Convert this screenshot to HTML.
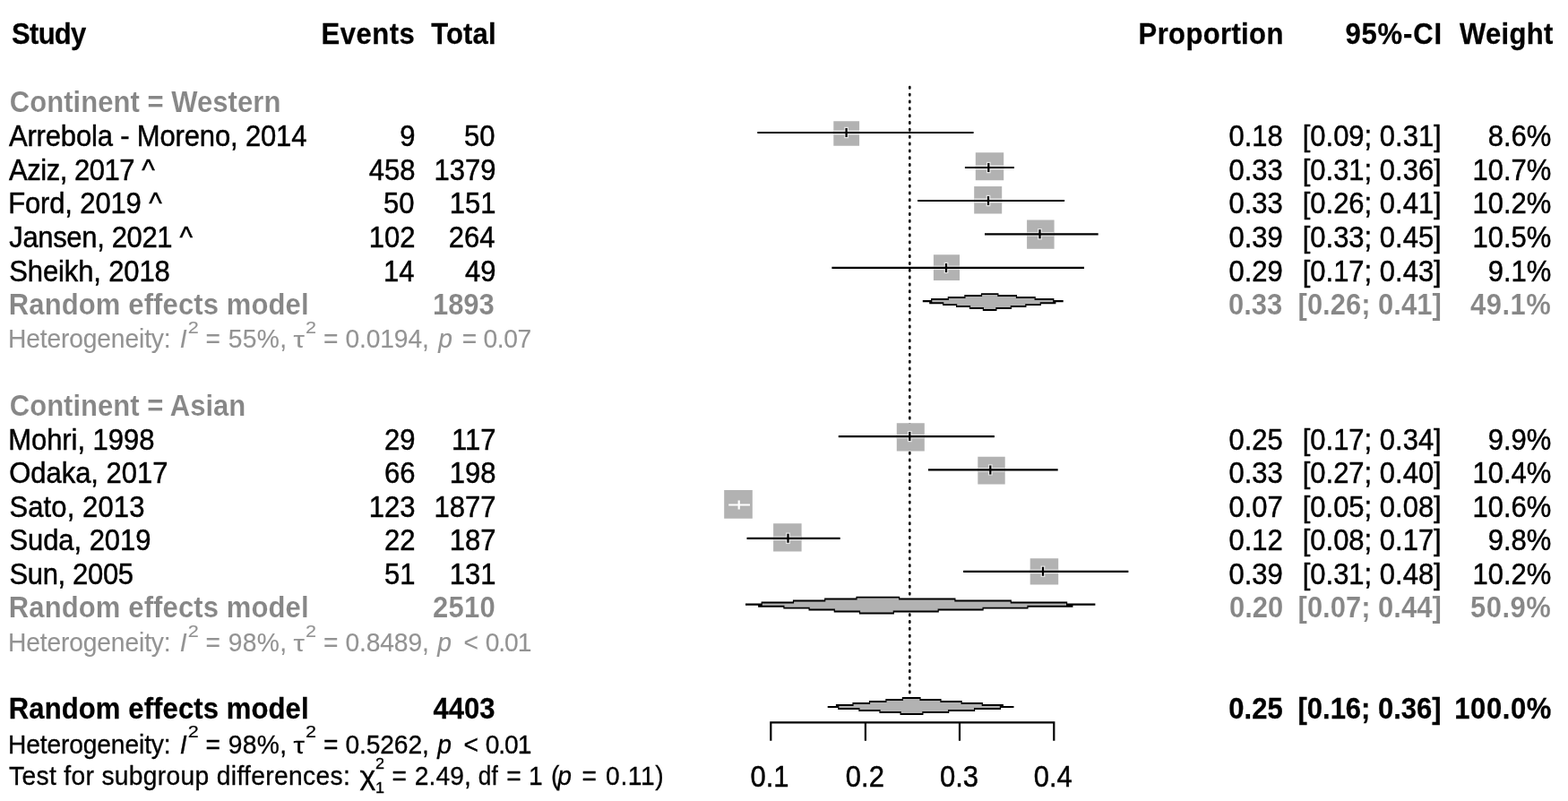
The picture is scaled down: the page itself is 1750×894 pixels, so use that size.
<!DOCTYPE html>
<html lang="en">
<head>
<meta charset="utf-8">
<title>Forest plot</title>
<style>
html,body{margin:0;padding:0;background:#fff;}
body{width:1750px;height:894px;overflow:hidden;}
svg{display:block;}
text{font-family:"Liberation Sans",Arial,Helvetica,sans-serif;font-size:31.0px;fill:#000;stroke:#000;stroke-width:0.45;white-space:pre;}
.b{font-weight:bold;stroke-width:0.25;}
.i{font-style:italic;}
.h{font-size:28.2px;stroke-width:0.3;}
.s{font-size:18.0px;stroke-width:0.2;}
.t{font-size:15.0px;stroke-width:0.3;}
.g{fill:#878787;stroke:#fff;stroke-width:0.12;}
.k{fill:#939393;stroke:#939393;stroke-width:0.12;}
</style>
</head>
<body>
<svg width="1750" height="894" viewBox="0 0 1750 894">
<rect width="1750" height="894" fill="#fff"/>
<g>
<line x1="1015.3" y1="97.1" x2="1015.3" y2="774.5" stroke="#000" stroke-width="2.6" stroke-linecap="round" stroke-dasharray="1.4 6.445"/>
<path d="M930.3,135.3h28.8v27.5h-28.8z M1088.8,170.3h31.4v30.9h-31.4z M1087.2,208h31v30.5h-31z M1146.1,245.4h30.5v32.4h-30.5z M1041.9,284.3h29.1v28.8h-29.1z M1000.8,472.2h31v31.3h-31z M1091.3,509.8h30.4v30.7h-30.4z M808.2,547h31.6v31.8h-31.6z M863.1,584.3h31.5v31.3h-31.5z M1149.7,623.3h31.5v29.3h-31.5z" fill="#b2b2b2"/>
<path d="M930.3,148H959.1M944.6,141.8V154.2 M1088.8,187H1120.2M1103.3,180.8V193.2 M1087.2,224H1118.2M1103,217.8V230.2 M1146.1,261.3H1176.6M1160.5,255.1V267.5 M1041.9,298.9H1071M1056,292.7V305.1 M1000.8,487.1H1031.8M1015.3,480.9V493.3 M1091.3,524.4H1121.7M1105.3,518.2V530.6 M863.1,600.8H894.6M879.5,594.6V607 M1149.7,637.8H1181.2M1164,631.6V644" fill="none" stroke="#e2e2e2" stroke-width="4.8"/>
<path d="M845.3,148H1086.6M944.6,143V153 M1076.9,187H1131.9M1103.3,182V192 M1024.1,224H1188.1M1103,219V229 M1099,261.3H1225.7M1160.5,256.3V266.3 M928.4,298.9H1210M1056,293.9V303.9 M935.8,487.1H1109.9M1015.3,482.1V492.1 M1035.9,524.4H1180.7M1105.3,519.4V529.4 M833.5,600.8H937.7M879.5,595.8V605.8 M1075.1,637.8H1259.4M1164,632.8V642.8" fill="none" stroke="#000" stroke-width="2.2"/>
<path d="M813.2,563.5H837M824.7,558.5V568.5" fill="none" stroke="#fff" stroke-width="2.2"/>
<path d="M1094.9,327.2h19.6v2.2h-19.6z M1076.3,329.1h58.8v2.2h-58.8z M1057.7,331.1h98.1v2.2h-98.1z M1039.1,333.1h137.3v2.2h-137.3z M1029.8,335h156.9v2.2h-156.9z M1037.2,337h141.2v2.2h-141.2z M1052.1,338.9h109.8v2.2h-109.8z M1067,340.9h78.5v2.2h-78.5z M1081.9,342.9h47.1v2.2h-47.1z M1096.8,344.8h15.7v2.2h-15.7z" fill="#000"/>
<path d="M1096.1,329.1h17.2v2.2h-17.2z M1077.5,331.1h56.4v2.2h-56.4z M1058.9,333.1h95.7v2.2h-95.7z M1040.3,335h134.9v2.2h-134.9z M1053.3,337h107.4v2.2h-107.4z M1068.2,338.9h76v2.2h-76z M1083.1,340.9h44.7v2.2h-44.7z M1098,342.9h13.3v2.2h-13.3z" fill="#b2b2b2"/>
<path d="M955.4,665.7h48.8v2.2h-48.8z M920.1,667.6h146.4v2.2h-146.4z M884.9,669.6h244v2.2h-244z M849.6,671.6h341.6v2.2h-341.6z M832,673.5h390.4v2.2h-390.4z M846.1,675.5h351.4v2.2h-351.4z M874.3,677.4h273.3v2.2h-273.3z M902.5,679.4h195.2v2.2h-195.2z M930.7,681.4h117.1v2.2h-117.1z M958.9,683.3h39v2.2h-39z" fill="#000"/>
<path d="M956.6,667.6h46.4v2.2h-46.4z M921.3,669.6h144v2.2h-144z M886.1,671.6h241.6v2.2h-241.6z M850.8,673.5h339.2v2.2h-339.2z M875.5,675.5h270.9v2.2h-270.9z M903.7,677.4h192.8v2.2h-192.8z M931.9,679.4h114.7v2.2h-114.7z M960.1,681.4h36.6v2.2h-36.6z" fill="#b2b2b2"/>
<path d="M1006.8,778.1h20.8v2.2h-20.8z M988.3,780.1h62.3v2.2h-62.3z M969.9,782h103.9v2.2h-103.9z M951.4,784h145.5v2.2h-145.5z M932.9,786h187v2.2h-187z M923.7,787.9h207.8v2.2h-207.8z M935.2,789.9h181.8v2.2h-181.8z M958.3,791.8h129.9v2.2h-129.9z M981.4,793.8h77.9v2.2h-77.9z M1004.5,795.8h26v2.2h-26z" fill="#000"/>
<path d="M1008,780.1h18.4v2.2h-18.4z M989.5,782h59.9v2.2h-59.9z M971.1,784h101.5v2.2h-101.5z M952.6,786h143.1v2.2h-143.1z M936.4,787.9h179.4v2.2h-179.4z M959.5,789.9h127.5v2.2h-127.5z M982.6,791.8h75.5v2.2h-75.5z M1005.7,793.8h23.6v2.2h-23.6z" fill="#b2b2b2"/>
<path d="M860.3,826.7V806.4H1176.3V826.7M965.9,806.4V826.7M1071,806.4V826.7" fill="none" stroke="#000" stroke-width="2.2"/>
</g>
<g>
<text class="b" transform="matrix(1 0 0 1.09 13.1 49)" textLength="83.24" lengthAdjust="spacing">Study</text>
<text class="b" transform="matrix(1 0 0 1.09 358.6 49)" textLength="104.24" lengthAdjust="spacing">Events</text>
<text class="b" transform="matrix(1 0 0 1.09 481.3 49)" textLength="72.21" lengthAdjust="spacing">Total</text>
<text class="b" transform="matrix(1 0 0 1.09 1270.6 49)" textLength="161.74" lengthAdjust="spacing">Proportion</text>
<text class="b" transform="matrix(1 0 0 1.09 1501.4 49)" textLength="107.61" lengthAdjust="spacing">95%-CI</text>
<text class="b" transform="matrix(1 0 0 1.09 1629.1 49)" textLength="104.22" lengthAdjust="spacing">Weight</text>
<text class="b g" transform="matrix(1 0 0 1.09 10.8 125.1)" textLength="302.54" lengthAdjust="spacing">Continent = Western</text>
<text transform="matrix(1 0 0 1.09 9.9 163.2)" textLength="332.54" lengthAdjust="spacing">Arrebola - Moreno, 2014</text>
<text transform="matrix(1 0 0 1.09 446.2 163.2)">9</text>
<text transform="matrix(1 0 0 1.09 518.06 163.2)">50</text>
<text transform="matrix(1 0 0 1.09 1371.51 163.2)">0.18</text>
<text transform="matrix(1 0 0 1.09 1453.69 163.2)">[0.09; 0.31]</text>
<text transform="matrix(1 0 0 1.09 1660.71 163.2)">8.6%</text>
<text transform="matrix(1 0 0 1.09 10 200.8)" textLength="162.75" lengthAdjust="spacing">Aziz, 2017 ^</text>
<text transform="matrix(1 0 0 1.09 411.72 200.8)">458</text>
<text transform="matrix(1 0 0 1.09 484.58 200.8)">1379</text>
<text transform="matrix(1 0 0 1.09 1371.51 200.8)">0.33</text>
<text transform="matrix(1 0 0 1.09 1453.69 200.8)">[0.31; 0.36]</text>
<text transform="matrix(1 0 0 1.09 1643.47 200.8)">10.7%</text>
<text transform="matrix(1 0 0 1.09 9.2 238.4)" textLength="171.55" lengthAdjust="spacing">Ford, 2019 ^</text>
<text transform="matrix(1 0 0 1.09 427.96 238.4)">50</text>
<text transform="matrix(1 0 0 1.09 501.82 238.4)">151</text>
<text transform="matrix(1 0 0 1.09 1371.51 238.4)">0.33</text>
<text transform="matrix(1 0 0 1.09 1453.69 238.4)">[0.26; 0.41]</text>
<text transform="matrix(1 0 0 1.09 1643.47 238.4)">10.2%</text>
<text transform="matrix(1 0 0 1.09 10.3 276)" textLength="204.75" lengthAdjust="spacing">Jansen, 2021 ^</text>
<text transform="matrix(1 0 0 1.09 411.72 276)">102</text>
<text transform="matrix(1 0 0 1.09 500.82 276)">264</text>
<text transform="matrix(1 0 0 1.09 1371.51 276)">0.39</text>
<text transform="matrix(1 0 0 1.09 1453.69 276)">[0.33; 0.45]</text>
<text transform="matrix(1 0 0 1.09 1643.47 276)">10.5%</text>
<text transform="matrix(1 0 0 1.09 10.3 313.6)" textLength="179.44" lengthAdjust="spacing">Sheikh, 2018</text>
<text transform="matrix(1 0 0 1.09 427.96 313.6)">14</text>
<text transform="matrix(1 0 0 1.09 519.06 313.6)">49</text>
<text transform="matrix(1 0 0 1.09 1371.51 313.6)">0.29</text>
<text transform="matrix(1 0 0 1.09 1453.69 313.6)">[0.17; 0.43]</text>
<text transform="matrix(1 0 0 1.09 1660.71 313.6)">9.1%</text>
<text class="b g" transform="matrix(1 0 0 1.09 9.8 350.9)" textLength="334.81" lengthAdjust="spacing">Random effects model</text>
<text class="b g" transform="matrix(1 0 0 1.09 483.1 350.9)" textLength="68.64" lengthAdjust="spacing">1893</text>
<text class="b g" transform="matrix(1 0 0 1.09 1370.91 350.9)">0.33</text>
<text class="b g" transform="matrix(1 0 0 1.09 1448.57 350.9)">[0.26; 0.41]</text>
<text class="b g" transform="matrix(1 0 0 1.09 1641 350.9)" textLength="89.76" lengthAdjust="spacing">49.1%</text>
<text class="h k" transform="matrix(1 0 0 1.05 8.9 388.1)" textLength="181.73" lengthAdjust="spacing">Heterogeneity:</text>
<text class="i h k" transform="matrix(1 0 0 1.05 200.8 388.1)">I</text>
<text class="s k" transform="matrix(1.2 0 0 1.05 209.8 371.7)">2</text>
<text class="h k" transform="matrix(1 0 0 1.05 229.4 388.1)">=</text>
<text class="h k" transform="matrix(1 0 0 1.05 254.8 388.1)" textLength="65.33" lengthAdjust="spacing">55%,</text>
<text class="h k" transform="matrix(1.11 0 0 0.91 327.6 388.1)">τ</text>
<text class="s k" transform="matrix(1.2 0 0 1.05 340.9 371.7)">2</text>
<text class="h k" transform="matrix(1 0 0 1.05 360.9 388.1)">=</text>
<text class="h k" transform="matrix(1 0 0 1.05 385.4 388.1)" textLength="93.43" lengthAdjust="spacing">0.0194,</text>
<text class="i h k" transform="matrix(1 0 0 1.05 489.2 388.1)">p</text>
<text class="h k" transform="matrix(1 0 0 1.05 515.8 388.1)">=</text>
<text class="h k" transform="matrix(1 0 0 1.05 539.6 388.1)" textLength="53.68" lengthAdjust="spacing">0.07</text>
<text class="b g" transform="matrix(1 0 0 1.09 10.8 463.5)" textLength="263.44" lengthAdjust="spacing">Continent = Asian</text>
<text transform="matrix(1 0 0 1.09 9.2 501.6)" textLength="163.24" lengthAdjust="spacing">Mohri, 1998</text>
<text transform="matrix(1 0 0 1.09 428.96 501.6)">29</text>
<text transform="matrix(1 0 0 1.09 504.12 501.6)">117</text>
<text transform="matrix(1 0 0 1.09 1371.51 501.6)">0.25</text>
<text transform="matrix(1 0 0 1.09 1453.69 501.6)">[0.17; 0.34]</text>
<text transform="matrix(1 0 0 1.09 1660.71 501.6)">9.9%</text>
<text transform="matrix(1 0 0 1.09 10.2 539.2)" textLength="177.24" lengthAdjust="spacing">Odaka, 2017</text>
<text transform="matrix(1 0 0 1.09 428.96 539.2)">66</text>
<text transform="matrix(1 0 0 1.09 501.82 539.2)">198</text>
<text transform="matrix(1 0 0 1.09 1371.51 539.2)">0.33</text>
<text transform="matrix(1 0 0 1.09 1453.69 539.2)">[0.27; 0.40]</text>
<text transform="matrix(1 0 0 1.09 1643.47 539.2)">10.4%</text>
<text transform="matrix(1 0 0 1.09 10.4 576.8)" textLength="151.04" lengthAdjust="spacing">Sato, 2013</text>
<text transform="matrix(1 0 0 1.09 411.72 576.8)">123</text>
<text transform="matrix(1 0 0 1.09 484.58 576.8)">1877</text>
<text transform="matrix(1 0 0 1.09 1371.51 576.8)">0.07</text>
<text transform="matrix(1 0 0 1.09 1453.69 576.8)">[0.05; 0.08]</text>
<text transform="matrix(1 0 0 1.09 1643.47 576.8)">10.6%</text>
<text transform="matrix(1 0 0 1.09 10.4 614.4)" textLength="158.04" lengthAdjust="spacing">Suda, 2019</text>
<text transform="matrix(1 0 0 1.09 428.96 614.4)">22</text>
<text transform="matrix(1 0 0 1.09 501.82 614.4)">187</text>
<text transform="matrix(1 0 0 1.09 1371.51 614.4)">0.12</text>
<text transform="matrix(1 0 0 1.09 1453.69 614.4)">[0.08; 0.17]</text>
<text transform="matrix(1 0 0 1.09 1660.71 614.4)">9.8%</text>
<text transform="matrix(1 0 0 1.09 10.4 652)" textLength="138.64" lengthAdjust="spacing">Sun, 2005</text>
<text transform="matrix(1 0 0 1.09 428.96 652)">51</text>
<text transform="matrix(1 0 0 1.09 501.82 652)">131</text>
<text transform="matrix(1 0 0 1.09 1371.51 652)">0.39</text>
<text transform="matrix(1 0 0 1.09 1453.69 652)">[0.31; 0.48]</text>
<text transform="matrix(1 0 0 1.09 1643.47 652)">10.2%</text>
<text class="b g" transform="matrix(1 0 0 1.09 9.8 689.3)" textLength="334.81" lengthAdjust="spacing">Random effects model</text>
<text class="b g" transform="matrix(1 0 0 1.09 483.1 689.3)" textLength="69.64" lengthAdjust="spacing">2510</text>
<text class="b g" transform="matrix(1 0 0 1.09 1371.91 689.3)">0.20</text>
<text class="b g" transform="matrix(1 0 0 1.09 1448.57 689.3)">[0.07; 0.44]</text>
<text class="b g" transform="matrix(1 0 0 1.09 1641 689.3)" textLength="89.76" lengthAdjust="spacing">50.9%</text>
<text class="h k" transform="matrix(1 0 0 1.05 8.9 727.1)" textLength="181.73" lengthAdjust="spacing">Heterogeneity:</text>
<text class="i h k" transform="matrix(1 0 0 1.05 200.8 727.1)">I</text>
<text class="s k" transform="matrix(1.2 0 0 1.05 209.8 711.2)">2</text>
<text class="h k" transform="matrix(1 0 0 1.05 229.4 727.1)">=</text>
<text class="h k" transform="matrix(1 0 0 1.05 254.8 727.1)" textLength="65.33" lengthAdjust="spacing">98%,</text>
<text class="h k" transform="matrix(1.11 0 0 0.91 327.6 727.1)">τ</text>
<text class="s k" transform="matrix(1.2 0 0 1.05 340.9 711.2)">2</text>
<text class="h k" transform="matrix(1 0 0 1.05 360.9 727.1)">=</text>
<text class="h k" transform="matrix(1 0 0 1.05 385.4 727.1)" textLength="93.43" lengthAdjust="spacing">0.8489,</text>
<text class="i h k" transform="matrix(1 0 0 1.05 488.2 727.1)">p</text>
<text class="h k" transform="matrix(1 0 0 1.05 517.6 727.1)">&lt;</text>
<text class="h k" transform="matrix(1 0 0 1.05 541.8 727.1)" textLength="51.58" lengthAdjust="spacing">0.01</text>
<text class="b" transform="matrix(1 0 0 1.09 9.8 802.1)" textLength="334.81" lengthAdjust="spacing">Random effects model</text>
<text class="b" transform="matrix(1 0 0 1.09 483.58 802.1)">4403</text>
<text class="b" transform="matrix(1 0 0 1.09 1371.31 802.1)">0.25</text>
<text class="b" transform="matrix(1 0 0 1.09 1448.47 802.1)">[0.16; 0.36]</text>
<text class="b" transform="matrix(1 0 0 1.09 1623.3 802.1)" textLength="108.06" lengthAdjust="spacing">100.0%</text>
<text class="h" transform="matrix(1 0 0 1.05 8.9 840.9)" textLength="181.73" lengthAdjust="spacing">Heterogeneity:</text>
<text class="i h" transform="matrix(1 0 0 1.05 200.8 840.9)">I</text>
<text class="s" transform="matrix(1.2 0 0 1.05 209.8 822.8)">2</text>
<text class="h" transform="matrix(1 0 0 1.05 229.4 840.9)">=</text>
<text class="h" transform="matrix(1 0 0 1.05 254.8 840.9)" textLength="65.33" lengthAdjust="spacing">98%,</text>
<text class="h" transform="matrix(1.11 0 0 0.91 327.6 840.9)">τ</text>
<text class="s" transform="matrix(1.2 0 0 1.05 340.9 822.8)">2</text>
<text class="h" transform="matrix(1 0 0 1.05 360.9 840.9)">=</text>
<text class="h" transform="matrix(1 0 0 1.05 385.4 840.9)" textLength="93.43" lengthAdjust="spacing">0.5262,</text>
<text class="i h" transform="matrix(1 0 0 1.05 488.2 840.9)">p</text>
<text class="h" transform="matrix(1 0 0 1.05 517.6 840.9)">&lt;</text>
<text class="h" transform="matrix(1 0 0 1.05 541.8 840.9)" textLength="51.58" lengthAdjust="spacing">0.01</text>
<text class="h" transform="matrix(1 0 0 1.05 10.1 875.6)" textLength="380.63" lengthAdjust="spacing">Test for subgroup differences:</text>
<text class="h" transform="matrix(1.2 0 0 1.05 401.4 875.6)">χ</text>
<text class="t" transform="matrix(1.2 0 0 1.05 419.1 857.6)">2</text>
<text class="t" transform="matrix(1.2 0 0 1.05 419.1 885.2)">1</text>
<text class="h" transform="matrix(1 0 0 1.05 437.6 875.6)">=</text>
<text class="h" transform="matrix(1 0 0 1.05 462.7 875.6)" textLength="63.13" lengthAdjust="spacing">2.49,</text>
<text class="h" transform="matrix(0.93 0 0 1.05 533.87 875.6)">df</text>
<text class="h" transform="matrix(1 0 0 1.05 565.2 875.6)">=</text>
<text class="h" transform="matrix(1 0 0 1.05 589.9 875.6)">1</text>
<text class="h" transform="matrix(1 0 0 1.05 614.9 875.6)">(</text>
<text class="i h" transform="matrix(1 0 0 1.05 622.3 875.6)">p</text>
<text class="h" transform="matrix(1 0 0 1.05 649.5 875.6)">=</text>
<text class="h" transform="matrix(1 0 0 1.05 676.1 875.6)" textLength="64.59" lengthAdjust="spacing">0.11)</text>
<text transform="matrix(1 0 0 1.09 837.47 877.8)">0.1</text>
<text transform="matrix(1 0 0 1.09 943.87 877.8)">0.2</text>
<text transform="matrix(1 0 0 1.09 1048.97 877.8)">0.3</text>
<text transform="matrix(1 0 0 1.09 1153.77 877.8)">0.4</text>
</g>
</svg>
</body>
</html>
